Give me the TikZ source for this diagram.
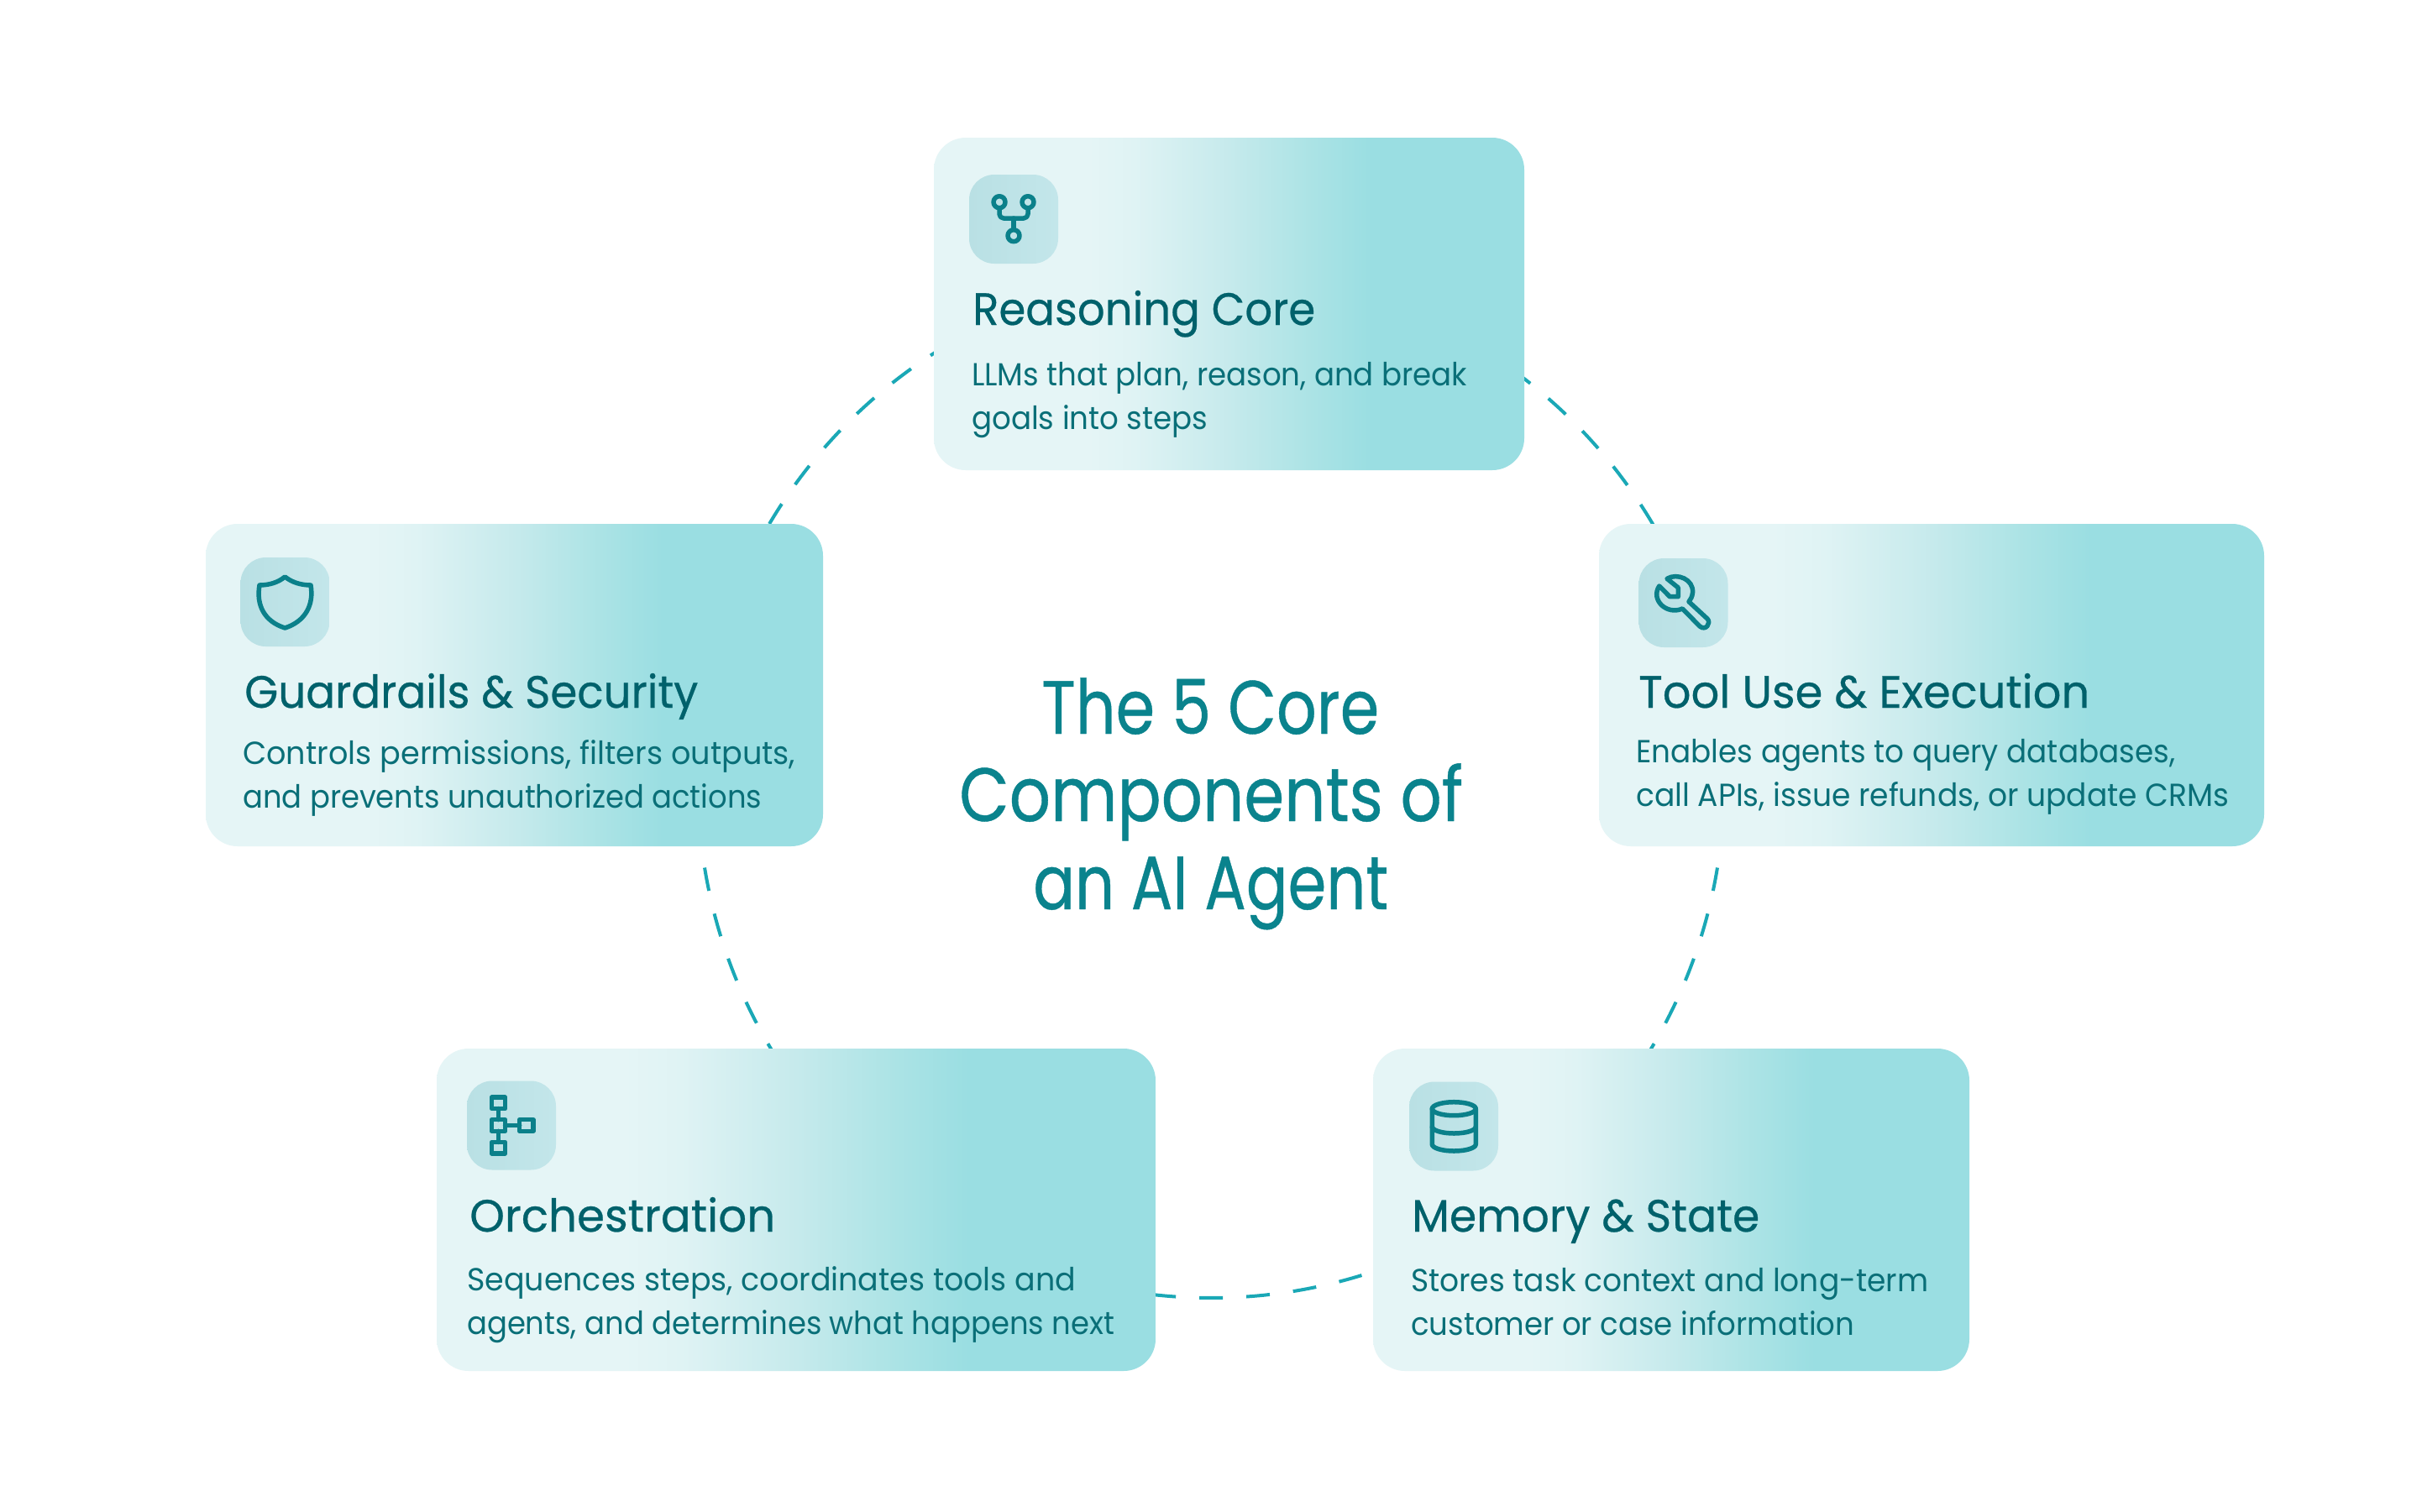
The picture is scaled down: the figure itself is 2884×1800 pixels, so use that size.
\documentclass[tikz,border=0pt]{standalone}
\usepackage{fontspec}
\usepackage{graphicx}
\setmainfont{Poppins}
\newfontfamily\headfam[FakeBold=0.5]{Poppins}
\usetikzlibrary{calc}
\definecolor{cardL}{HTML}{E5F5F6}
\definecolor{cardM1}{HTML}{DFF3F4}
\definecolor{cardM2}{HTML}{C6EAEC}
\definecolor{cardM3}{HTML}{ABE3E5}
\definecolor{cardD}{HTML}{9ADEE2}
\definecolor{tileA}{HTML}{B9E0E4}
\definecolor{tileB}{HTML}{C3E6EA}
\definecolor{ringC}{HTML}{1AA8B6}
\definecolor{iconC}{HTML}{0B808A}
\definecolor{headC}{HTML}{00616B}
\definecolor{bodyC}{HTML}{0A6F78}
\definecolor{titleC}{HTML}{0A838D}
\pgfdeclarehorizontalshading{cardgrad}{100bp}{color(0bp)=(cardL); color(38bp)=(cardL); color(42bp)=(cardM1); color(50bp)=(cardM2); color(57bp)=(cardM3); color(62bp)=(cardD); color(100bp)=(cardD)}
\newcommand{\fw}[2]{\resizebox{#1pt}{\height}{#2}}
\tikzset{
  ringdash/.style={draw=ringC,line width=4pt,dash pattern=on 28pt off 28pt},
  card/.style={rectangle,rounded corners=38pt,shading=cardgrad,inner sep=0pt,draw=none},
  tile/.style={rectangle,rounded corners=30pt,left color=tileA,right color=tileB,inner sep=0pt,draw=none,minimum width=106pt,minimum height=106pt},
  head/.style={anchor=base west,inner sep=0pt,text=headC,font=\fontsize{54}{60}\selectfont\headfam},
  body/.style={anchor=base west,inner sep=0pt,text=bodyC,align=left,font=\fontsize{38}{52}\selectfont},
  bigline/.style={anchor=base west,inner sep=0pt,text=titleC,font=\fontsize{90}{100}\selectfont\headfam},
  icon/.style={draw=iconC,line width=5.5pt,line join=round,line cap=round,fill=none},
}
\begin{document}
\begin{tikzpicture}[x=1pt,y=-1pt]
\useasboundingbox (0,0) rectangle (2884,1800);
\fill[white] (0,0) rectangle (2884,1800);
\coordinate (ringc) at (1442,935);
% ring arcs
\path (ringc) ++(69.9:611pt) coordinate (arcRT);
\path (ringc) ++(-9.28:611pt) coordinate (arcTM);
\path (ringc) ++(242.44:611pt) coordinate (arcOM);
\path (ringc) ++(189.28:611pt) coordinate (arcGO);
\path (ringc) ++(154.65:611pt) coordinate (arcGR);
\draw[ringdash] (arcRT) arc[start angle=69.9,delta angle=-45,radius=611pt];
\draw[ringdash] (arcTM) arc[start angle=-9.28,delta angle=-27,radius=611pt];
\draw[ringdash] (arcOM) arc[start angle=242.44,delta angle=67,radius=611pt];
\draw[ringdash] (arcGO) arc[start angle=189.28,delta angle=27,radius=611pt];
\draw[ringdash] (arcGR) arc[start angle=154.65,delta angle=-45,radius=611pt];
% cards
\node[card,minimum width=703pt,minimum height=396pt] (reasoning) at (1463.5,362) {};
\node[card,minimum width=735pt,minimum height=384pt] (guardrails) at (612.5,816) {};
\node[card,minimum width=792pt,minimum height=384pt] (tooluse) at (2300,816) {};
\node[card,minimum width=856pt,minimum height=384pt] (orchestration) at (948,1441) {};
\node[card,minimum width=710pt,minimum height=384pt] (memory) at (1990,1441) {};
% tiles
\node[tile] (tileR) at (1207,261) {};
\node[tile] (tileG) at (339.5,717) {};
\node[tile] (tileT) at (2004.5,718) {};
\node[tile] (tileO) at (609,1340.5) {};
\node[tile] (tileM) at (1731,1341.5) {};
% icon: branch
\draw[icon] (1190,240.7) circle[radius=7pt];
\draw[icon] (1224,240.7) circle[radius=7pt];
\draw[icon] (1207,280.7) circle[radius=7pt];
\draw[icon,rounded corners=5pt] (1190,248) -- (1190,260) -- (1224,260) -- (1224,248);
\draw[icon] (1207,260) -- (1207,273.5);
% icon: shield
\draw[icon] (339.3,687) .. controls (331,694) and (320,697) .. (309,697) .. controls (305,720) and (314,740) .. (339.3,748) .. controls (364,740) and (374,720) .. (370,697) .. controls (359,697) and (348,694) .. cycle;
% icon: wrench
\draw[icon] (1985,689.3) .. controls (1997,682) and (2017,690) .. (2015.5,706) .. controls (2015,711) and (2013,714) .. (2011,716.7) -- (2033,737) .. controls (2038,742) and (2031,752) .. (2024,746) -- (2003.3,725) .. controls (1985,733) and (1965,715) .. (1975.7,698) -- (1988.3,710.7) -- (1998.3,710.7) -- (1998.3,700) -- cycle;
% icon: hierarchy
\draw[icon] (585.4,1307) rectangle (601.6,1320.6);
\draw[icon] (585.4,1333.7) rectangle (601.6,1347.3);
\draw[icon] (585.4,1360.4) rectangle (601.6,1374);
\draw[icon] (618.7,1333.7) rectangle (635,1347.3);
\draw[icon] (593.5,1320.6) -- (593.5,1333.7);
\draw[icon] (593.5,1347.3) -- (593.5,1360.4);
\draw[icon] (601.6,1340.5) -- (618.7,1340.5);
% icon: database
\draw[icon] (1731.3,1320.7) ellipse[x radius=26pt,y radius=8pt];
\draw[icon] (1705.3,1320.7) -- (1705.3,1363) arc[start angle=180,end angle=360,x radius=26pt,y radius=8pt] -- (1757.3,1320.7);
\draw[icon] (1705.3,1342) arc[start angle=180,end angle=360,x radius=26pt,y radius=8pt];
% card text
\node[head] (hR) at (1158,387) {\fw{408}{Reasoning Core}};
\node[body] (bR) at (1157,511) {\fw{590}{LLMs that plan, reason, and break}\\\fw{281}{goals into steps}};
\node[head] (hG) at (291,843) {\fw{540}{Guardrails \& Security}};
\node[body] (bG) at (289,962) {\fw{658}{Controls permissions, filters outputs,}\\\fw{618}{and prevents unauthorized actions}};
\node[head] (hT) at (1951,843) {\fw{537}{Tool Use \& Execution}};
\node[body] (bT) at (1948,960) {\fw{642}{Enables agents to query databases,}\\\fw{706}{call APIs, issue refunds, or update CRMs}};
\node[head] (hO) at (559,1467) {\fw{364}{Orchestration}};
\node[body] (bO) at (556,1589) {\fw{725}{Sequences steps, coordinates tools and}\\\fw{771}{agents, and determines what happens next}};
\node[head] (hM) at (1681,1467) {\fw{414}{Memory \& State}};
\node[body] (bM) at (1680,1590) {\fw{616}{Stores task context and long-term}\\\fw{528}{customer or case information}};
% centre title
\node[bigline] (c1) at (1240,874) {\fw{402}{The 5 Core}};
\node[bigline] (c2) at (1142,978) {\fw{600}{Components of}};
\node[bigline] (c3) at (1230,1083) {\fw{423}{an AI Agent}};
\end{tikzpicture}
\end{document}
